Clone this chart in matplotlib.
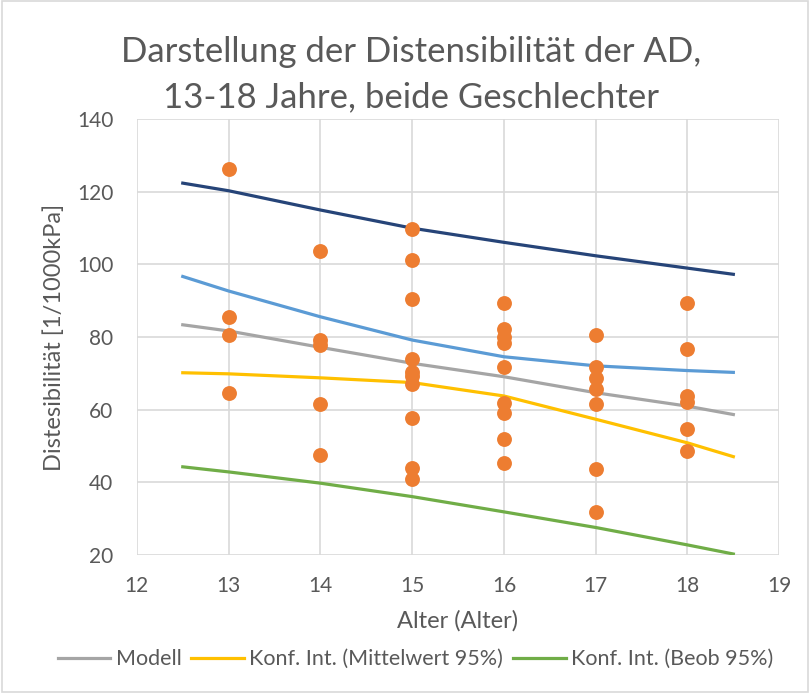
import matplotlib.pyplot as plt
import numpy as np
from matplotlib.patches import Rectangle

plt.rcParams['font.family'] = ['Lato', 'DejaVu Sans']

# scatter: age vs distensibility
age = [13, 13, 13, 13,
       14, 14, 14, 14, 14,
       15, 15, 15, 15, 15, 15, 15, 15, 15, 15,
       16, 16, 16, 16, 16, 16, 16, 16, 16,
       17, 17, 17, 17, 17, 17, 17,
       18, 18, 18, 18, 18, 18]
dist = [126.4, 85.6, 80.5, 64.6,
        103.7, 79.2, 77.9, 61.6, 47.5,
        109.8, 101.1, 90.5, 73.9, 70.5, 69.2, 67.0, 57.7, 43.9, 40.9,
        89.5, 82.3, 80.0, 78.3, 71.9, 61.8, 59.0, 51.9, 45.4,
        80.6, 71.7, 68.7, 65.6, 61.5, 43.7, 31.9,
        89.5, 76.7, 63.8, 62.2, 54.7, 48.7]

# fitted lines
x_fit = [12.5, 13, 14, 15, 16, 17, 18, 18.5]
modell = [83.4, 81.7, 77.2, 72.8, 69.1, 64.7, 61.0, 58.7]
ci_lo = [70.2, 69.9, 68.8, 67.5, 63.8, 57.4, 50.9, 47.1]
ci_hi = [96.7, 92.7, 85.6, 79.2, 74.6, 72.1, 70.8, 70.3]
pi_lo = [44.3, 42.9, 39.8, 36.1, 31.9, 27.6, 22.8, 20.3]
pi_hi = [122.4, 120.3, 115.0, 110.0, 106.1, 102.4, 99.0, 97.3]

title1 = 'Darstellung der Distensibilität der AD,'
title2 = '13-18 Jahre, beide Geschlechter'

txt = '#595959'
fig = plt.figure(figsize=(8.1, 6.93), dpi=100)
ax = fig.add_axes([0.169, 0.199, 0.793, 0.629])

ax.scatter(age, dist, s=115, color='#ED7D31', zorder=4, linewidths=0)
ax.plot(x_fit, modell, color='#A5A5A5', lw=2.3, label='Modell', zorder=3)
ax.plot(x_fit, ci_lo, color='#FFC000', lw=2.3, label='Konf. Int. (Mittelwert 95%)', zorder=3)
ax.plot(x_fit, pi_lo, color='#70AD47', lw=2.3, label='Konf. Int. (Beob 95%)', zorder=3)
ax.plot(x_fit, ci_hi, color='#5B9BD5', lw=2.3, zorder=3)
ax.plot(x_fit, pi_hi, color='#264478', lw=2.3, zorder=3)

ax.set_xlim(12, 19)
ax.set_ylim(20, 140)
ax.set_xticks(range(12, 20))
ax.set_yticks(range(20, 141, 20))
ax.grid(True, color='#D9D9D9', lw=1.2)
ax.set_axisbelow(True)
for s in ax.spines.values():
    s.set_visible(False)
ax.tick_params(length=0, labelsize=15, colors=txt)
ax.tick_params(axis='y', pad=17)
ax.tick_params(axis='x', pad=15)

ax.set_xlabel('Alter (Alter)', fontsize=17, color=txt)
ax.set_ylabel('Distesibilität [1/1000kPa]', fontsize=17, color=txt)
ax.xaxis.set_label_coords(0.5, -0.125)
ax.yaxis.set_label_coords(-0.112, 0.5)

# title, two lines
fig.text(0.508, 1 - 62 / 693, title1, ha='center', va='baseline', fontsize=25, color=txt)
fig.text(0.508, 1 - 107 / 693, title2, ha='center', va='baseline', fontsize=25, color=txt)

ax.legend(loc='center', bbox_to_anchor=(0.513, 0.049), bbox_transform=fig.transFigure,
          ncol=3, frameon=False, fontsize=15.5, handlelength=2.45, handletextpad=0.25,
          columnspacing=0.45, labelcolor=txt)

fig.patches.append(Rectangle((0.003, 0.002), 0.995, 0.996, transform=fig.transFigure,
                             fill=False, edgecolor='#D9D9D9', lw=1.2))

fig.savefig('out.png', dpi=100)
